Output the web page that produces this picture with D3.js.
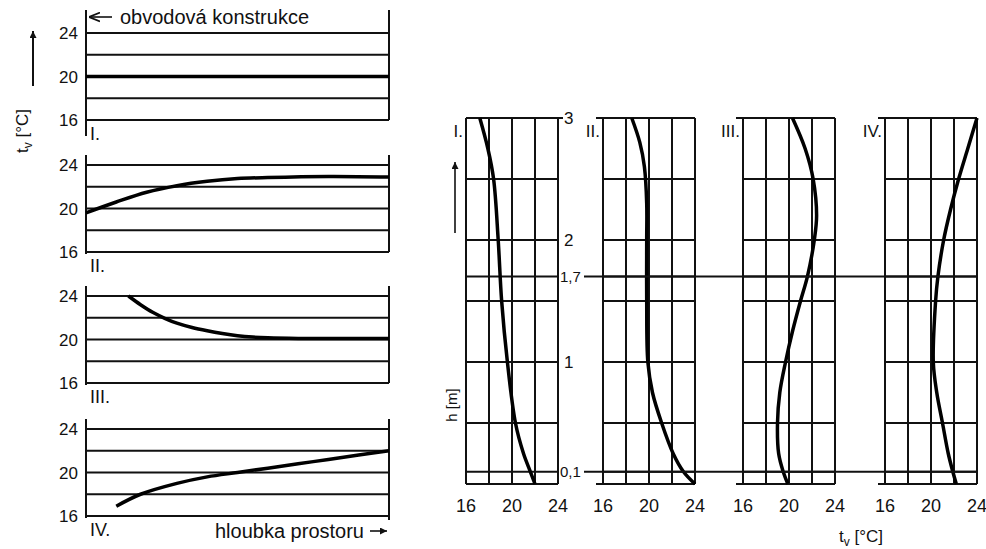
<!DOCTYPE html>
<html>
<head>
<meta charset="utf-8">
<script src="https://cdn.jsdelivr.net/npm/d3@7"></script>
<style>
  body { margin: 0; background: #fff; }
  svg { display: block; }
  text { font-family: "Liberation Sans", Arial, sans-serif; fill: #111; }
  .grid { stroke: #111; stroke-width: 2; fill: none; }
  .curve { stroke: #000; stroke-width: 3.5; fill: none; }
  .tick { font-size: 17px; }
</style>
</head>
<body>
<script>
(function(){

    // --- data ---------------------------------------------------------
    // left: temperature along room depth (0 = outer wall, 1 = full depth)
    var leftNames = ["I.", "II.", "III.", "IV."];
    var leftTicks = [16, 20, 24];
    var leftGrid = [16, 18, 20, 22, 24];
    var leftDepth = [
        [0, 1],
        [0, 0.1, 0.2, 0.3, 0.4, 0.5, 0.6, 0.8, 1],
        [0.14, 0.18, 0.22, 0.26, 0.3, 0.35, 0.4, 0.45, 0.5, 0.55, 0.6, 0.7, 1],
        [0.1, 0.18, 0.3, 0.4, 0.5, 0.6, 0.7, 0.8, 0.9, 1]
    ];
    var leftTemp = [
        [20, 20],
        [19.6, 20.6, 21.5, 22.1, 22.5, 22.75, 22.85, 22.95, 22.9],
        [24, 23.2, 22.5, 21.95, 21.5, 21.1, 20.8, 20.55, 20.35, 20.22, 20.15, 20.1, 20.1],
        [16.9, 18, 19, 19.6, 20, 20.4, 20.8, 21.2, 21.6, 22]
    ];

    // right: temperature over room height h [m]
    var rightNames = ["I.", "II.", "III.", "IV."];
    var rightTicks = [16, 20, 24];
    var rightTempGrid = [16, 18, 20, 22, 24];
    var heightGrid = [0, 0.1, 0.5, 1, 1.5, 1.7, 2, 2.5, 3];
    var heightLabels = ["3", "2", "1,7", "1", "0,1"];
    var heightLabelValues = [3, 2, 1.7, 1, 0.1];
    var rightHeight = [
        [3, 2.75, 2.5, 2, 1.5, 1, 0.5, 0.25, 0.1, 0],
        [3, 2.8, 2.6, 2.3, 2, 1.5, 1, 0.75, 0.5, 0.25, 0.1, 0],
        [3, 2.75, 2.5, 2.2, 2, 1.7, 1.5, 1.25, 1, 0.75, 0.5, 0.25, 0.1, 0],
        [3, 2.75, 2.5, 2.25, 2, 1.7, 1.5, 1, 0.75, 0.5, 0.25, 0.1, 0]
    ];
    var rightTemp = [
        [17.2, 17.9, 18.4, 18.8, 19.1, 19.6, 20.3, 21, 21.6, 22],
        [18.5, 19.2, 19.6, 19.8, 19.8, 19.8, 19.9, 20.3, 21.1, 22.1, 23, 24],
        [20.3, 21.4, 22.1, 22.4, 22.2, 21.6, 21, 20.3, 19.7, 19.2, 19, 19.1, 19.5, 19.9],
        [24, 23.2, 22.4, 21.7, 21.1, 20.6, 20.4, 20.2, 20.5, 21, 21.5, 21.9, 22.2]
    ];

    var width = 986, height = 549;

    var svg = d3.select("body").append("svg")
        .attr("width", width)
        .attr("height", height);

    var defs = svg.append("defs");
    defs.append("marker")
        .attr("id", "head")
        .attr("viewBox", "0 0 10 10")
        .attr("refX", 10).attr("refY", 5)
        .attr("markerWidth", 7).attr("markerHeight", 7)
        .attr("markerUnits", "userSpaceOnUse")
        .attr("orient", "auto")
        .append("path")
        .attr("d", "M0,0 L10,5 L0,10 Z")
        .attr("fill", "#111");
    defs.append("marker")
        .attr("id", "openHead")
        .attr("viewBox", "0 0 10 10")
        .attr("refX", 10).attr("refY", 5)
        .attr("markerWidth", 11).attr("markerHeight", 11)
        .attr("markerUnits", "userSpaceOnUse")
        .attr("orient", "auto")
        .append("path")
        .attr("d", "M0,1 L10,5 L0,9")
        .attr("fill", "none")
        .attr("stroke", "#111")
        .attr("stroke-width", 1.6);

    // --- left panels ---------------------------------------------------
    var leftX0 = 86, leftX1 = 389,
        panelTops = [33, 165, 296, 429],
        panelH = 87;

    var xDepth = d3.scaleLinear().domain([0, 1]).range([leftX0, leftX1]);

    leftNames.forEach(function(name, i){
        var top = panelTops[i];
        var y = d3.scaleLinear().domain([16, 24]).range([top + panelH, top]);
        var g = svg.append("g");

        g.selectAll(".hline")
            .data(leftGrid)
            .enter()
            .append("line")
            .attr("class", "grid")
            .attr("x1", leftX0).attr("x2", leftX1)
            .attr("y1", function(d){ return y(d); })
            .attr("y2", function(d){ return y(d); });

        // frame verticals stick out a bit
        var extraTop = i === 0 ? 23 : 10;
        g.append("line").attr("class", "grid")
            .attr("x1", leftX0).attr("x2", leftX0)
            .attr("y1", top - extraTop).attr("y2", top + panelH + (i === 0 ? 16 : 2));
        g.append("line").attr("class", "grid")
            .attr("x1", leftX1).attr("x2", leftX1)
            .attr("y1", top - extraTop).attr("y2", top + panelH + (i === 3 ? 4 : 0));

        g.selectAll(".tick")
            .data(leftTicks)
            .enter()
            .append("text")
            .attr("class", "tick")
            .attr("x", 78)
            .attr("y", function(d){ return y(d); })
            .attr("dy", "0.36em")
            .attr("text-anchor", "end")
            .text(function(d){ return d; });

        g.append("text")
            .attr("x", 90)
            .attr("y", top + panelH + 20)
            .style("font-size", "18px")
            .text(name);

        var pts = leftDepth[i].map(function(d, j){ return [d, leftTemp[i][j]]; });
        g.append("path")
            .datum(pts)
            .attr("class", "curve")
            .attr("d", d3.line()
                .x(function(d){ return xDepth(d[0]); })
                .y(function(d){ return y(d[1]); })
                .curve(d3.curveCatmullRom));
    });

    // y label + arrow
    svg.append("text")
        .attr("transform", "translate(28,131) rotate(-90)")
        .attr("text-anchor", "middle")
        .style("font-size", "17px")
        .html('t<tspan dy="4" font-size="12">v</tspan><tspan dy="-4"> [°C]</tspan>');
    svg.append("line")
        .attr("x1", 33).attr("x2", 33)
        .attr("y1", 86).attr("y2", 31)
        .attr("stroke", "#111").attr("stroke-width", 2)
        .attr("marker-end", "url(#head)");

    svg.append("line")
        .attr("x1", 112).attr("x2", 89)
        .attr("y1", 17).attr("y2", 17)
        .attr("stroke", "#111").attr("stroke-width", 1.6)
        .attr("marker-end", "url(#openHead)");
    svg.append("text")
        .attr("x", 120).attr("y", 24)
        .style("font-size", "20px")
        .text("obvodová konstrukce");

    svg.append("text")
        .attr("x", 215).attr("y", 538)
        .style("font-size", "20px")
        .text("hloubka prostoru");
    svg.append("line")
        .attr("x1", 370).attr("x2", 387)
        .attr("y1", 531).attr("y2", 531)
        .attr("stroke", "#111").attr("stroke-width", 1.6)
        .attr("marker-end", "url(#head)");

    // --- right panels --------------------------------------------------
    var rightLefts = [466, 603, 743, 885],
        rightW = 92;

    var yH = d3.scaleLinear().domain([0, 3]).range([484, 118]);

    rightNames.forEach(function(name, i){
        var x = d3.scaleLinear().domain([16, 24]).range([rightLefts[i], rightLefts[i] + rightW]);
        var g = svg.append("g");

        g.selectAll(".vline")
            .data(rightTempGrid)
            .enter()
            .append("line")
            .attr("class", "grid")
            .attr("x1", function(d){ return x(d); })
            .attr("x2", function(d){ return x(d); })
            .attr("y1", yH(3)).attr("y2", yH(0));

        g.selectAll(".hline")
            .data(heightGrid)
            .enter()
            .append("line")
            .attr("class", "grid")
            .attr("x1", function(d){
                return (i > 0 && (d === 0 || d === 3)) ? x(16) - 7 : x(16);
            })
            .attr("x2", function(d){
                return (i === 0 && d === 3) ? x(24) + 5 : x(24);
            })
            .attr("y1", function(d){ return yH(d); })
            .attr("y2", function(d){ return yH(d); });

        g.selectAll(".tick")
            .data(rightTicks)
            .enter()
            .append("text")
            .attr("class", "tick")
            .attr("x", function(d){ return x(d); })
            .attr("y", 512)
            .attr("text-anchor", "middle")
            .style("font-size", "18px")
            .text(function(d){ return d; });

        g.append("text")
            .attr("x", x(16) - 3)
            .attr("y", 137)
            .attr("text-anchor", "end")
            .style("font-size", "17px")
            .text(name);

        var pts = rightHeight[i].map(function(d, j){ return [rightTemp[i][j], d]; });
        g.append("path")
            .datum(pts)
            .attr("class", "curve")
            .attr("d", d3.line()
                .x(function(d){ return x(d[0]); })
                .y(function(d){ return yH(d[1]); })
                .curve(d3.curveCatmullRom));
    });

    // long reference lines at 1.7 m and 0.1 m
    [1.7, 0.1].forEach(function(h){
        svg.append("line")
            .attr("class", "grid")
            .attr("x1", 584).attr("x2", 976)
            .attr("y1", yH(h)).attr("y2", yH(h));
    });

    // height labels beside panel I
    svg.selectAll(".hlabel")
        .data(heightLabelValues)
        .enter()
        .append("text")
        .attr("class", "tick")
        .attr("x", function(d, i){ return heightLabels[i].length > 1 ? 560 : 564; })
        .attr("y", function(d){ return yH(d); })
        .attr("dy", "0.36em")
        .style("font-size", function(d, i){ return heightLabels[i].length > 1 ? "15px" : "17px"; })
        .text(function(d, i){ return heightLabels[i]; });

    // h label + arrow
    svg.append("text")
        .attr("transform", "translate(457,405) rotate(-90)")
        .attr("text-anchor", "middle")
        .style("font-size", "15px")
        .text("h [m]");
    svg.append("line")
        .attr("x1", 455).attr("x2", 455)
        .attr("y1", 233).attr("y2", 162)
        .attr("stroke", "#111").attr("stroke-width", 1.6)
        .attr("marker-end", "url(#head)");

    svg.append("text")
        .attr("x", 861).attr("y", 542)
        .attr("text-anchor", "middle")
        .style("font-size", "17px")
        .html('t<tspan dy="4" font-size="12">v</tspan><tspan dy="-4"> [°C]</tspan>');

})();
</script>
</body>
</html>
